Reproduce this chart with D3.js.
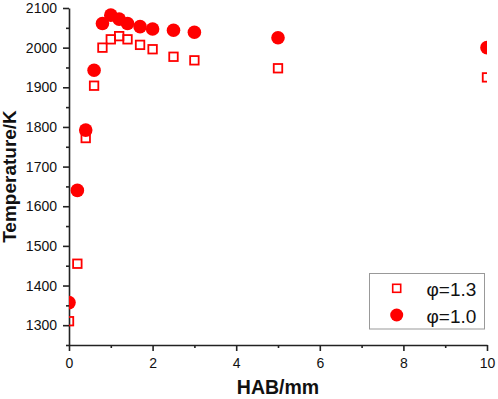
<!DOCTYPE html>
<html lang="en">
<head>
<meta charset="UTF-8">
<title>temperature vs HAB</title>
<script src="https://cdn.jsdelivr.net/npm/d3@7"></script>
<style>
	body { margin: 0; background: #fff; }
	text { font-family: "Liberation Sans", Arial, sans-serif; }
</style>
</head>
<body>
<script>
// HAB (mm) and temperature (K) for the two equivalence ratios
var hab13 = [0, 0.2, 0.4, 0.6, 0.8, 1.0, 1.2, 1.4, 1.7, 2.0, 2.5, 3.0, 5.0, 10];
var temp13 = [1310, 1455, 1772, 1904, 2000, 2021, 2029, 2021, 2007, 1996, 1977, 1968, 1948, 1925];
var hab10 = [0, 0.2, 0.4, 0.6, 0.8, 1.0, 1.2, 1.4, 1.7, 2.0, 2.5, 3.0, 5.0, 10];
var temp10 = [1357, 1640, 1792, 1943, 2061, 2082, 2072, 2061, 2053, 2047, 2044, 2039, 2025, 2000];
var legendLabels = ['\u03C6=1.3', '\u03C6=1.0'];
var xTicks = [0, 2, 4, 6, 8, 10];
var xMinor = [1, 3, 5, 7, 9];
var yTicks = [1300, 1400, 1500, 1600, 1700, 1800, 1900, 2000, 2100];
var yMinor = [1250, 1350, 1450, 1550, 1650, 1750, 1850, 1950, 2050];

var width = 498,
	height = 399;
var padding = { top: 8, bottom: 54, left: 69, right: 11 };
var red = '#ff0000';

var svg = d3.select('body').append('svg')
	.attr('width', width)
	.attr('height', height);

var xScale = d3.scaleLinear()
	.domain([0, 10])
	.range([padding.left, width - padding.right]);
var yScale = d3.scaleLinear()
	.domain([1250, 2100])
	.range([height - padding.bottom, padding.top]);

svg.append('clipPath').attr('id', 'plot')
	.append('rect')
	.attr('x', xScale(0))
	.attr('y', 0)
	.attr('width', xScale(10) - xScale(0))
	.attr('height', yScale(1250));

function drawAxis() {
	svg.append('g')
		.attr('transform', `translate(0,${yScale(1250)})`)
		.call(d3.axisBottom(xScale).tickValues(xTicks).tickFormat(d3.format('d')).tickSize(6).tickPadding(7).tickSizeOuter(0));
	svg.append('g')
		.attr('transform', `translate(0,${yScale(1250)})`)
		.call(d3.axisBottom(xScale).tickValues(xMinor).tickSize(3).tickFormat('').tickSizeOuter(0))
		.select('.domain').remove();

	svg.append('g')
		.attr('transform', `translate(${xScale(0)},0)`)
		.call(d3.axisLeft(yScale).tickValues(yTicks).tickFormat(d3.format('d')).tickSize(6).tickPadding(6).tickSizeOuter(0));
	svg.append('g')
		.attr('transform', `translate(${xScale(0)},0)`)
		.call(d3.axisLeft(yScale).tickValues(yMinor).tickSize(3).tickFormat('').tickSizeOuter(0))
		.select('.domain').remove();

	svg.selectAll('.domain, .tick line')
		.attr('stroke', '#222')
		.attr('stroke-width', 1.6);
	svg.selectAll('.tick text')
		.attr('font-size', 14)
		.attr('fill', '#111')
		.style('font-family', '"Liberation Sans", Arial, sans-serif');

	svg.append('text')
		.attr('x', (xScale(0) + xScale(10)) / 2)
		.attr('y', 394)
		.attr('text-anchor', 'middle')
		.attr('font-size', 19.5)
		.attr('font-weight', 'bold')
		.attr('fill', '#111')
		.text('HAB/mm');

	svg.append('text')
		.attr('transform', `translate(16,${(yScale(1250) + yScale(2100)) / 2}) rotate(-90)`)
		.attr('text-anchor', 'middle')
		.attr('font-size', 19)
		.attr('font-weight', 'bold')
		.attr('fill', '#111')
		.text('Temperature/K');
}

function drawPoints() {
	var g = svg.append('g').attr('clip-path', 'url(#plot)');
	var s = 8.5;

	g.selectAll('rect.p13')
		.data(d3.zip(hab13, temp13))
		.enter().append('rect')
		.attr('class', 'p13')
		.attr('x', d => xScale(d[0]) - s / 2)
		.attr('y', d => yScale(d[1]) - s / 2)
		.attr('width', s)
		.attr('height', s)
		.attr('fill', 'none')
		.attr('stroke', red)
		.attr('stroke-width', 1.8);

	g.selectAll('circle.p10')
		.data(d3.zip(hab10, temp10))
		.enter().append('circle')
		.attr('class', 'p10')
		.attr('cx', d => xScale(d[0]))
		.attr('cy', d => yScale(d[1]))
		.attr('r', 6.8)
		.attr('fill', red);
}

function drawLegend() {
	var lg = svg.append('g').attr('transform', 'translate(369.5,273.5)');
	lg.append('rect')
		.attr('width', 115)
		.attr('height', 55.5)
		.attr('fill', '#fff')
		.attr('stroke', '#999')
		.attr('stroke-width', 1);

	lg.append('rect')
		.attr('x', 27.2 - 4)
		.attr('y', 14.8 - 4)
		.attr('width', 8)
		.attr('height', 8)
		.attr('fill', 'none')
		.attr('stroke', red)
		.attr('stroke-width', 1.6);
	lg.append('circle')
		.attr('cx', 27.2)
		.attr('cy', 41.5)
		.attr('r', 6.5)
		.attr('fill', red);

	lg.selectAll('text.lab')
		.data(legendLabels)
		.enter().append('text')
		.attr('class', 'lab')
		.attr('x', 57)
		.attr('y', (d, i) => 22.5 + i * 27)
		.attr('font-size', 19)
		.attr('fill', '#111')
		.text(d => d);
}

drawAxis();
drawPoints();
drawLegend();
</script>
</body>
</html>
